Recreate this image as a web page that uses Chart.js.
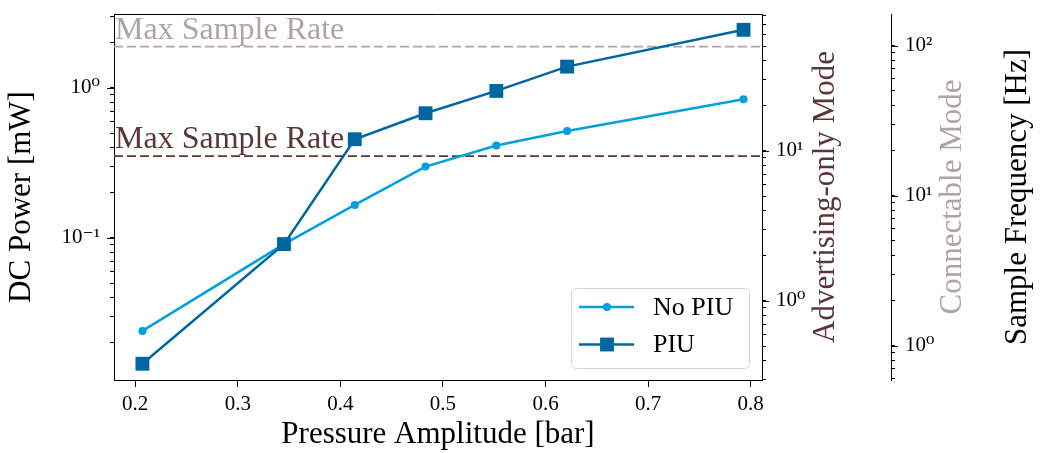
<!DOCTYPE html>
<html>
<head>
<meta charset="utf-8">
<script src="https://cdn.jsdelivr.net/npm/chart.js@4.4.1/dist/chart.umd.min.js"></script>
<style>
  html, body { margin: 0; padding: 0; background: #fff; }
  #wrap { width: 1049px; height: 453px; }
</style>
</head>
<body>
<div id="wrap"><canvas id="chart" width="1049" height="453"></canvas></div>
<script>
const pressure = [0.207, 0.345, 0.414, 0.483, 0.552, 0.621, 0.793];
const noPiuPower = [0.024, 0.091, 0.166, 0.299, 0.413, 0.517, 0.84];
const piuPower = [0.0145, 0.091, 0.455, 0.678, 0.955, 1.387, 2.44];
const seriesLabels = ["No PIU", "PIU"];

const xTicks = [0.2, 0.3, 0.4, 0.5, 0.6, 0.7, 0.8];
const xRange = [0.1793, 0.811];
const powerRange = [0.0113, 3.11];
const advRange = [0.297, 81.9];
const connRange = [0.59, 162.5];

// max sample rates (Hz) for the two BLE modes
const advMaxRate = 9.25;
const connMaxRate = 98.5;
const maxRateLabel = "Max Sample Rate";

const FONT = "'Liberation Serif', 'DejaVu Serif', serif";
const LIGHT_BLUE = "#00a0dc";
const DARK_BLUE = "#0066a1";
const DARK_RATE = "#5c3636";
const LIGHT_RATE = "#b0a2a5";

const tickFont = { family: FONT, size: 21 };
const titleFont = { family: FONT, size: 31 };

const SUP = { "0": "\u2070", "1": "\u00b9", "2": "\u00b2", "3": "\u00b3", "-": "\u207b" };
const isPow10 = (v) => {
  const e = Math.log10(v);
  return Math.abs(e - Math.round(e)) < 1e-9;
};
const pow10Label = (v) => {
  if (!isPow10(v)) return "";
  const e = String(Math.round(Math.log10(v)));
  return "10" + e.split("").map((c) => SUP[c]).join("");
};
const logTicks = (min, max) => {
  const ticks = [];
  for (let e = Math.floor(Math.log10(min)); e <= Math.ceil(Math.log10(max)); e++) {
    for (let k = 1; k <= 9; k++) {
      const v = k * Math.pow(10, e);
      if (v >= min && v <= max) ticks.push({ value: v, major: k === 1 });
    }
  }
  return ticks;
};
// keep the label overflow from pushing the plot area around
const noPad = (s) => {
  s.paddingTop = 0;
  s.paddingBottom = 0;
  s.paddingLeft = 0;
  s.paddingRight = 0;
};

const logAxis = (range, position, width, weight) => ({
  type: "logarithmic",
  position,
  weight,
  min: range[0],
  max: range[1],
  afterBuildTicks: (s) => { s.ticks = logTicks(s.min, s.max); },
  afterFit: (s) => { s.width = width; noPad(s); },
  ticks: { autoSkip: false, callback: pow10Label, font: tickFont, color: "#000", padding: 10 },
  grid: { drawOnChartArea: false, tickLength: 4, tickColor: "#000", tickWidth: 1 },
  border: { color: "#000", width: 1 },
});

// longer marks at the decades
const majorTicks = {
  id: "majorTicks",
  afterDraw(chart) {
    const ctx = chart.ctx;
    ["y", "y2", "y3"].forEach((id) => {
      const s = chart.scales[id];
      const left = s.position === "left";
      const x0 = left ? s.right : s.left;
      ctx.save();
      ctx.strokeStyle = "#000";
      ctx.lineWidth = 1;
      s.ticks.forEach((t) => {
        if (!isPow10(t.value)) return;
        const py = Math.round(s.getPixelForValue(t.value)) + 0.5;
        ctx.beginPath();
        ctx.moveTo(x0, py);
        ctx.lineTo(x0 + (left ? -7 : 7), py);
        ctx.stroke();
      });
      ctx.restore();
    });
  },
};

// right-hand titles read bottom to top, as on the left
const sideTitles = {
  id: "sideTitles",
  afterDraw(chart, args, opts) {
    const { ctx, chartArea } = chart;
    const cy = (chartArea.top + chartArea.bottom) / 2;
    opts.items.forEach((item) => {
      const s = chart.scales[item.scale];
      ctx.save();
      ctx.translate(s.left + item.offset, cy);
      ctx.rotate(-Math.PI / 2);
      ctx.font = `31px ${FONT}`;
      ctx.textAlign = "center";
      ctx.textBaseline = "middle";
      ctx.fillStyle = item.color;
      ctx.fillText(item.text, 0, 0);
      ctx.restore();
    });
  },
};

const rateLabels = {
  id: "rateLabels",
  beforeDatasetsDraw(chart) {
    const { ctx, chartArea } = chart;
    [["y3", connMaxRate, LIGHT_RATE], ["y2", advMaxRate, DARK_RATE]].forEach(([id, rate, color]) => {
      const py = chart.scales[id].getPixelForValue(rate);
      ctx.save();
      ctx.font = `32px ${FONT}`;
      ctx.fillStyle = color;
      ctx.textBaseline = "alphabetic";
      ctx.fillText(maxRateLabel, chartArea.left + 1, py - 8);
      ctx.restore();
    });
  },
};

const boxLegend = {
  id: "boxLegend",
  afterDatasetsDraw(chart) {
    const { ctx, chartArea } = chart;
    const w = 178, h = 80;
    const bx = chartArea.right - 13 - w;
    const by = chartArea.bottom - 12 - h;
    ctx.save();
    ctx.beginPath();
    if (ctx.roundRect) ctx.roundRect(bx + 0.5, by + 0.5, w, h, 5);
    else ctx.rect(bx + 0.5, by + 0.5, w, h);
    ctx.fillStyle = "rgba(255,255,255,0.8)";
    ctx.fill();
    ctx.strokeStyle = "#d5d5d5";
    ctx.lineWidth = 1;
    ctx.stroke();

    const entries = chart.data.datasets.filter((d) => d.inLegend).sort((a, b) => a.legendIndex - b.legendIndex);
    entries.forEach((d, i) => {
      const ry = by + 19 + i * 37.5;
      ctx.strokeStyle = d.borderColor;
      ctx.lineWidth = d.borderWidth;
      ctx.beginPath();
      ctx.moveTo(bx + 8, ry);
      ctx.lineTo(bx + 63, ry);
      ctx.stroke();
      ctx.fillStyle = d.backgroundColor;
      const mx = bx + 36;
      if (d.pointStyle === "rect") {
        const side = d.pointRadius * Math.SQRT2;
        ctx.fillRect(mx - side / 2, ry - side / 2, side, side);
      } else {
        ctx.beginPath();
        ctx.arc(mx, ry, d.pointRadius, 0, Math.PI * 2);
        ctx.fill();
      }
      ctx.fillStyle = "#000";
      ctx.font = `26px ${FONT}`;
      ctx.textBaseline = "middle";
      ctx.fillText(d.label, bx + 82, ry + 1);
    });
    ctx.restore();
  },
};

new Chart(document.getElementById("chart"), {
  type: "line",
  data: {
    datasets: [
      {
        label: seriesLabels[1],
        data: pressure.map((x, i) => ({ x, y: piuPower[i] })),
        yAxisID: "y",
        borderColor: DARK_BLUE,
        backgroundColor: DARK_BLUE,
        borderWidth: 2.5,
        pointStyle: "rect",
        pointRadius: 9.8,
        pointBorderWidth: 0,
        order: 0,
        inLegend: true,
        legendIndex: 1,
      },
      {
        label: seriesLabels[0],
        data: pressure.map((x, i) => ({ x, y: noPiuPower[i] })),
        yAxisID: "y",
        borderColor: LIGHT_BLUE,
        backgroundColor: LIGHT_BLUE,
        borderWidth: 2.5,
        pointStyle: "circle",
        pointRadius: 4,
        pointBorderWidth: 0,
        order: 1,
        inLegend: true,
        legendIndex: 0,
      },
      {
        label: "adv max",
        data: xRange.map((x) => ({ x, y: advMaxRate })),
        yAxisID: "y2",
        borderColor: DARK_RATE,
        borderWidth: 1.8,
        borderDash: [9, 4],
        pointRadius: 0,
        order: 2,
      },
      {
        label: "conn max",
        data: xRange.map((x) => ({ x, y: connMaxRate })),
        yAxisID: "y3",
        borderColor: LIGHT_RATE,
        borderWidth: 1.8,
        borderDash: [9, 4],
        pointRadius: 0,
        order: 3,
      },
    ],
  },
  options: {
    responsive: false,
    animation: false,
    layout: { padding: { top: 14, left: 0, right: 0, bottom: 0 } },
    plugins: {
      legend: { display: false },
      tooltip: { enabled: false },
      sideTitles: {
        items: [
          { scale: "y2", text: "Advertising-only Mode", color: DARK_RATE, offset: 64 },
          { scale: "y3", text: "Connectable Mode", color: LIGHT_RATE, offset: 62 },
          { scale: "y3", text: "Sample Frequency [Hz]", color: "#000", offset: 127 },
        ],
      },
    },
    scales: {
      x: {
        type: "linear",
        position: "bottom",
        min: xRange[0],
        max: xRange[1],
        afterBuildTicks: (s) => { s.ticks = xTicks.map((v) => ({ value: v })); },
        afterFit: (s) => { s.height = 73; noPad(s); },
        ticks: { autoSkip: false, maxRotation: 0, font: tickFont, color: "#000", padding: 5, callback: (v) => v.toFixed(1) },
        grid: { drawOnChartArea: false, tickLength: 7, tickColor: "#000" },
        border: { color: "#000", width: 1 },
        title: { display: true, text: "Pressure Amplitude [bar]", font: titleFont, color: "#000", padding: { top: 0, bottom: 0 } },
      },
      xTop: {
        type: "linear",
        position: "top",
        min: xRange[0],
        max: xRange[1],
        afterFit: (s) => { s.height = 0; noPad(s); },
        ticks: { display: false },
        grid: { drawOnChartArea: false, drawTicks: false },
        border: { color: "#000", width: 1 },
      },
      y: {
        ...logAxis(powerRange, "left", 114, 0),
        title: { display: true, text: "DC Power [mW]", font: titleFont, color: "#000", padding: { top: 3, bottom: 0 } },
      },
      y2: logAxis(advRange, "right", 129, 0),
      y3: logAxis(connRange, "right", 158, 1),
    },
  },
  plugins: [rateLabels, boxLegend, majorTicks, sideTitles],
});
</script>
</body>
</html>
